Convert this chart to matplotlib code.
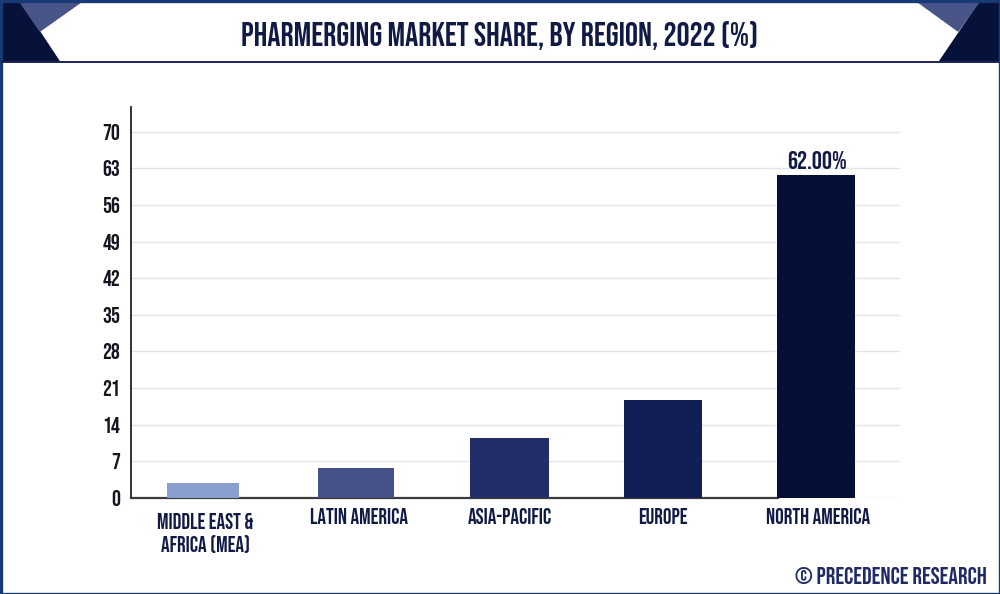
import numpy as np
import matplotlib
matplotlib.use("Agg")
import matplotlib.pyplot as plt
from matplotlib.patches import Polygon, Rectangle
from matplotlib.transforms import ScaledTranslation

# data
regions = ["MIDDLE EAST &\nAFRICA (MEA)", "LATIN AMERICA", "ASIA-PACIFIC", "EUROPE", "NORTH AMERICA"]
share = [2.9, 5.7, 11.5, 18.7, 61.7]
yticks = [0, 7, 14, 21, 28, 35, 42, 49, 56, 63, 70]
top_label = "62.00%"

bar_colors = ["#8a9fd0", "#465287", "#232e68", "#121f56", "#050f35"]
bar_widths = [0.47, 0.495, 0.51, 0.51, 0.51]
label_shift = [2, 3, 0, 0, 2]  # px, the labels are not quite centred under the bars
navy = "#101a45"
plt.rcParams["font.family"] = ["Bebas Neue", "DejaVu Sans"]

W, H = 1000, 594
fig = plt.figure(figsize=(W / 100, H / 100), dpi=100, facecolor="white")

# chart area, placed in pixels
left, right, top, bottom = 131, 900, 107, 498
ax = fig.add_axes([left / W, 1 - bottom / H, (right - left) / W, (bottom - top) / H])
x = np.arange(len(regions))
ax.bar(x, share, width=bar_widths, color=bar_colors, zorder=3)
ax.set_xlim(-0.47, 4.548)
ax.set_ylim(0, 74.7)
ax.set_yticks(yticks)
ax.set_xticks(x)
ax.set_xticklabels(regions, fontsize=15.5, color=navy, linespacing=1.32, va="top")
ax.tick_params(axis="x", length=0, pad=7)
ax.tick_params(axis="y", length=0, pad=8, labelsize=16, labelcolor="#15151f")
ax.xaxis.get_major_ticks()[0].set_pad(11)
for lab, dx in zip(ax.get_xticklabels(), label_shift):
    lab.set_transform(lab.get_transform() + ScaledTranslation(dx / 100, 0, fig.dpi_scale_trans))
ax.grid(axis="y", color="#e4e5ea", lw=1, zorder=0)
ax.set_axisbelow(True)
for s in ["top", "right"]:
    ax.spines[s].set_visible(False)
ax.spines["left"].set_color("#222222")
ax.spines["left"].set_linewidth(1.3)
ax.spines["bottom"].set_color("#3a3a3a")
ax.spines["bottom"].set_linewidth(1.6)
ax.spines["bottom"].set_bounds(-0.47, 3.75)
ax.annotate(top_label, (x[-1], share[-1]), xytext=(1, 4.5), textcoords="offset points",
            ha="center", va="bottom", fontsize=18, color=navy)

# frame and header, in pixel coordinates
deco = fig.add_axes([0, 0, 1, 1], zorder=5)
deco.set_xlim(0, W)
deco.set_ylim(H, 0)
deco.axis("off")
deco.patch.set_alpha(0)
deco.add_patch(Polygon([(2, 2), (20, 2), (59, 61), (2, 61)], color="#07123a"))
deco.add_patch(Polygon([(20, 2), (81, 2), (40, 31)], color="#495488"))
deco.add_patch(Polygon([(979, 2), (998, 2), (998, 61), (939, 61)], color="#07123a"))
deco.add_patch(Polygon([(918, 2), (979, 2), (958, 31)], color="#495488"))
deco.plot([2, 998], [62, 62], color="#1b2358", lw=1.4)
deco.add_patch(Rectangle((0.5, 0.5), W - 1, H - 1, fill=False, ec="#173a75", lw=2.4))
deco.text(500, 35, "PHARMERGING MARKET SHARE, BY REGION, 2022 (%)", ha="center", va="center",
          fontsize=23.5, color=navy)
deco.text(987, 576, "© PRECEDENCE RESEARCH", ha="right", va="center", fontsize=17.2, color="#1f2a66")

fig.savefig("out.png", dpi=100)
